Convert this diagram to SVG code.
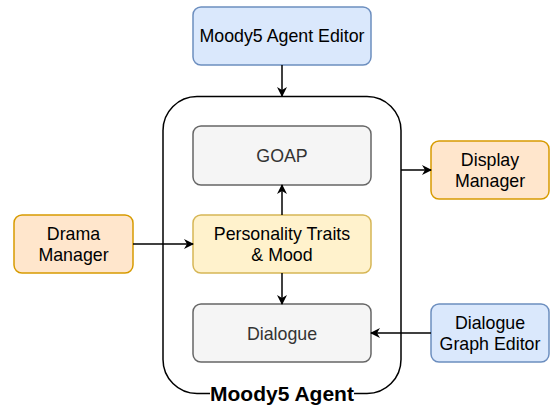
<svg xmlns="http://www.w3.org/2000/svg" width="551" height="409" viewBox="0 0 551 409">
<style>
text{font-family:"Liberation Sans",Arial,sans-serif;font-size:17.8px;text-anchor:middle;dominant-baseline:central;fill:#000}
.blue{fill:#dae8fc;stroke:#6c8ebf;stroke-width:1.5}
.orange{fill:#ffe6cc;stroke:#d79b00;stroke-width:1.5}
.yellow{fill:#fff2cc;stroke:#d6b656;stroke-width:1.5}
.gray{fill:#f5f5f5;stroke:#666666;stroke-width:1.5}
.gt{fill:#333333}
.edge{stroke:#000;stroke-width:1.5;fill:none;marker-end:url(#arr)}
</style>
<defs>
<marker id="arr" viewBox="0 0 10 10" refX="9" refY="5" markerWidth="10" markerHeight="10" markerUnits="userSpaceOnUse" orient="auto">
<path d="M0,0 L10,5 L0,10 L3,5 Z" fill="#000"/>
</marker>
</defs>
<rect width="551" height="409" fill="#fff"/>
<g id="agent">
<rect x="163" y="96.5" width="238" height="297" rx="34" fill="none" stroke="#000" stroke-width="1.5"/>
<rect x="210" y="383" width="144" height="22" fill="#fff"/>
<text x="282" y="393" style="font-weight:bold;font-size:21px">Moody5 Agent</text>
</g>
<g id="editor">
<rect class="blue" x="193" y="7" width="178" height="58" rx="8"/>
<text x="282" y="36">Moody5 Agent Editor</text>
</g>
<g id="goap">
<rect class="gray" x="193" y="126" width="178" height="59" rx="8"/>
<text class="gt" x="282" y="156">GOAP</text>
</g>
<g id="personality">
<rect class="yellow" x="193" y="215" width="178" height="58" rx="8"/>
<text x="282" y="234">Personality Traits</text>
<text x="282" y="255">&amp; Mood</text>
</g>
<g id="dialogue">
<rect class="gray" x="193" y="304" width="178" height="58" rx="8"/>
<text class="gt" x="282" y="334">Dialogue</text>
</g>
<g id="drama">
<rect class="orange" x="14" y="215" width="119" height="58" rx="8"/>
<text x="73.5" y="234">Drama</text>
<text x="73.5" y="255">Manager</text>
</g>
<g id="display">
<rect class="orange" x="431" y="141" width="118" height="58" rx="8"/>
<text x="490" y="160">Display</text>
<text x="490" y="181">Manager</text>
</g>
<g id="dge">
<rect class="blue" x="431" y="304" width="118" height="58" rx="8"/>
<text x="490" y="323">Dialogue</text>
<text x="490" y="344">Graph Editor</text>
</g>
<g id="connectors">
<path class="edge" d="M282,65 L282,96"/>
<path class="edge" d="M282,215 L282,185"/>
<path class="edge" d="M282,273 L282,304"/>
<path class="edge" d="M133,244 L193,244"/>
<path class="edge" d="M401,170 L431,170"/>
<path class="edge" d="M431,333 L371,333"/>
</g>
</svg>
